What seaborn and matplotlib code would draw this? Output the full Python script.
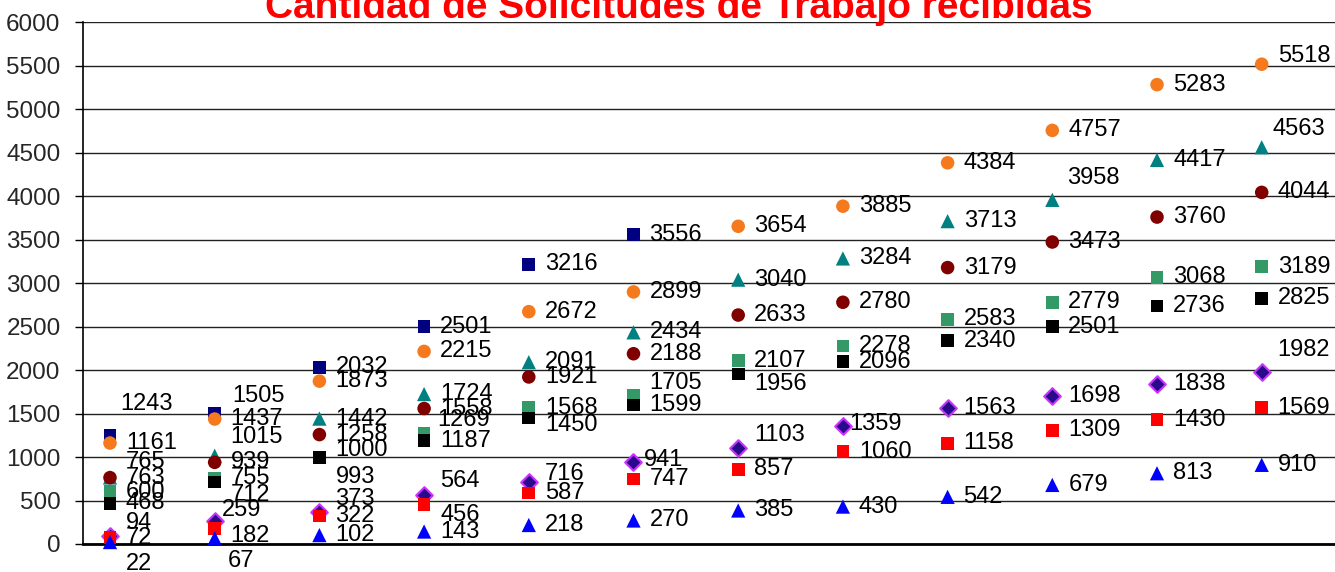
import pandas as pd
import matplotlib.pyplot as plt
import seaborn as sns

# Set style
sns.set_theme(style="white")
plt.rcParams['font.family'] = ['Liberation Sans', 'DejaVu Sans']

# Data, periods 1..12
periods = list(range(1, 13))
serie_navy = [1243, 1505, 2032, 2501, 3216, 3556]
serie_orange = [1161, 1437, 1873, 2215, 2672, 2899, 3654, 3885, 4384, 4757, 5283, 5518]
serie_teal = [765, 1015, 1442, 1724, 2091, 2434, 3040, 3284, 3713, 3958, 4417, 4563]
serie_darkred = [763, 939, 1258, 1558, 1921, 2188, 2633, 2780, 3179, 3473, 3760, 4044]
serie_green = [600, 755, 1000, 1269, 1568, 1705, 2107, 2278, 2583, 2779, 3068, 3189]
serie_black = [468, 712, 993, 1187, 1450, 1599, 1956, 2096, 2340, 2501, 2736, 2825]
serie_purple = [94, 259, 373, 564, 716, 941, 1103, 1359, 1563, 1698, 1838, 1982]
serie_red = [72, 182, 322, 456, 587, 747, 857, 1060, 1158, 1309, 1430, 1569]
serie_blue = [22, 67, 102, 143, 218, 270, 385, 430, 542, 679, 813, 910]

series = {
    "navy": serie_navy, "orange": serie_orange, "teal": serie_teal,
    "darkred": serie_darkred, "green": serie_green, "black": serie_black,
    "purple": serie_purple, "red": serie_red, "blue": serie_blue,
}

# marker style per series: (marker, face colour, edge colour, size)
styles = {
    "navy": ("s", "#000080", "none", 85),
    "orange": ("o", "#F57A1E", "none", 95),
    "teal": ("^", "#008080", "none", 105),
    "darkred": ("o", "#800000", "none", 95),
    "green": ("s", "#339966", "none", 85),
    "black": ("s", "#000000", "none", 85),
    "purple": ("D", "#2A0A8C", "#CC33FF", 72),
    "red": ("s", "#FF0000", "none", 85),
    "blue": ("^", "#0000FF", "none", 105),
}

# manual nudges of some data labels (pixels), like the moved labels in Excel
label_nudge = {
    ("navy", 0): (10, 32), ("navy", 1): (18, 17),
    ("orange", 11): (16, 8),
    ("teal", 0): (16, 15), ("teal", 1): (16, 19), ("teal", 9): (15, 22), ("teal", 11): (11, 18),
    ("green", 2): (16, 7), ("green", 3): (13, 14), ("green", 5): (16, 13),
    ("black", 1): (16, -13), ("black", 2): (16, -19), ("black", 4): (16, -7), ("black", 6): (16, -10),
    ("purple", 0): (16, 13), ("purple", 1): (7, 11), ("purple", 2): (16, 13), ("purple", 3): (16, 14),
    ("purple", 4): (16, 8), ("purple", 5): (10, 2), ("purple", 6): (16, 13), ("purple", 7): (6, 2),
    ("purple", 11): (16, 22),
    ("red", 1): (16, -8), ("red", 3): (16, -11),
    ("blue", 0): (16, -22), ("blue", 1): (13, -23),
}

rows = []
for name, vals in series.items():
    for i, v in enumerate(vals):
        rows.append({"serie": name, "periodo": periods[i], "valor": v, "idx": i})
df = pd.DataFrame(rows)

fig = plt.figure(figsize=(13.35, 5.72), dpi=100)
ax = fig.add_axes([0.062, 0.049, 0.938, 0.912])

for name in series:
    marker, face, edge, size = styles[name]
    sub = df[df["serie"] == name]
    sns.scatterplot(data=sub, x="periodo", y="valor", ax=ax, marker=marker,
                    color=face, edgecolor=edge, linewidth=1.5 if edge != "none" else 0,
                    s=size, clip_on=False, zorder=3, legend=False)

# data labels
for _, r in df.iterrows():
    dx, dy = label_nudge.get((r["serie"], r["idx"]), (16, 0))
    ax.annotate(f"{r['valor']}", (r["periodo"], r["valor"]), xytext=(dx, dy),
                textcoords="offset pixels", ha="left", va="center",
                fontsize=17, color="#000000", annotation_clip=False, zorder=4)

ax.set_xlim(0.74, 12.7)
ax.set_ylim(0, 6000)
ax.set_yticks(range(0, 6001, 500))
ax.set_xticks([])
ax.tick_params(axis="y", labelsize=17.5, left=True, length=6, width=1, color="black", pad=10)
ax.set_xlabel("")
ax.set_ylabel("")
ax.yaxis.grid(True, color="#222222", linewidth=1)
ax.set_axisbelow(True)

for side in ["top", "right"]:
    ax.spines[side].set_visible(False)
ax.spines["left"].set_color("black")
ax.spines["left"].set_linewidth(1.2)
ax.spines["bottom"].set_color("black")
ax.spines["bottom"].set_linewidth(2)

fig.text(0.5086, 0.968, "Cantidad de Solicitudes de Trabajo recibidas",
         ha="center", va="baseline", fontsize=28, fontweight="bold", color="#FF0000")

plt.savefig("out.png", dpi=100)
plt.close()
